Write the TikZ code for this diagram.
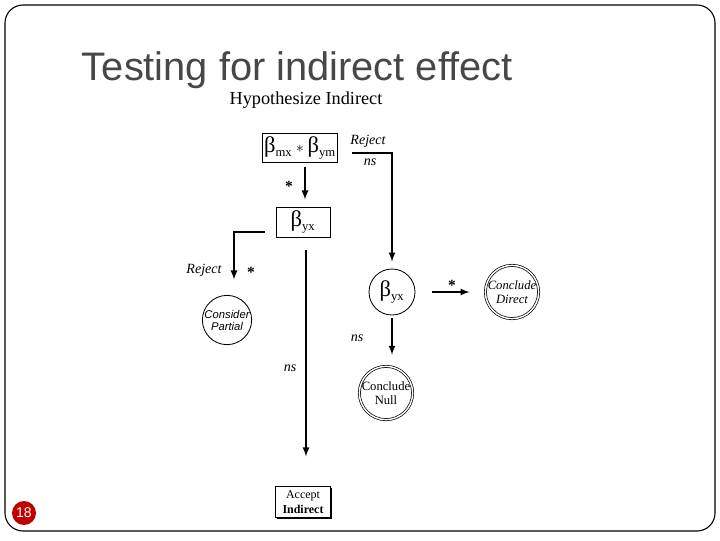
\documentclass[tikz,border=0pt]{standalone}
\usepackage{fontspec}
\setmainfont{Liberation Serif}
\newfontfamily\slidefont{Liberation Sans}
\usetikzlibrary{positioning,shadows}

\tikzset{
  testbox/.style={draw, line width=0.7pt, inner sep=1pt},
  testcirc/.style={draw, circle, line width=0.6pt, inner sep=0pt},
  endcirc/.style={draw, circle, double, double distance=1pt, line width=0.5pt, inner sep=0pt},
  arr/.style={line width=1.2pt, -latex},
  lab/.style={font=\fontsize{10}{10}\selectfont\itshape},
  sig/.style={font=\fontsize{11}{11}\selectfont\bfseries},
}

\begin{document}
\begin{tikzpicture}[x=0.025cm, y=-0.025cm]
\useasboundingbox (0,0) rectangle (720,540);
 \draw[line width=0.8pt, rounded corners=0.45cm] (5,5) rectangle (715,531);
 \node[anchor=base west, black!72, font=\slidefont\fontsize{28.3}{30}\selectfont] (title) at (77,80) {Testing for indirect effect};
 \node[font=\fontsize{13}{15}\selectfont] (hyp) at (306,100) {Hypothesize Indirect};

 %boxes
 \node[testbox, minimum width=1.76cm, minimum height=0.73cm] (prod) at (300,148)
   {\fontsize{16}{16}\selectfont β\textsubscript{\fontsize{9}{9}\selectfont mx}\,{\fontsize{11}{11}\selectfont$\ast$}\,β\textsubscript{\fontsize{9}{9}\selectfont ym}};
 \node[testbox, minimum width=1.35cm, minimum height=0.75cm] (byx) at (303,222)
   {\fontsize{16}{16}\selectfont β\textsubscript{\fontsize{9}{9}\selectfont yx}};
 \node[testbox, minimum width=1.38cm, minimum height=0.78cm, align=center,
   drop shadow={shadow xshift=0.8pt, shadow yshift=-1pt, fill=black, opacity=1}, fill=white] (accept) at (303,502)
   {\fontsize{8.5}{9}\selectfont Accept\\[-1pt]\fontsize{8.5}{9}\selectfont\bfseries Indirect};

 %circles
 \node[testcirc, minimum size=1.15cm] (cyx) at (392,292)
   {\fontsize{16}{16}\selectfont β\textsubscript{\fontsize{9}{9}\selectfont yx}};
 \node[testcirc, minimum size=1.1cm, align=center, font=\slidefont\itshape\fontsize{8}{8.5}\selectfont] (partial) at (227,320) {Consider\\Partial};
 \node[endcirc, minimum size=1.3cm, align=center, font=\itshape\fontsize{9}{9.5}\selectfont] (direct) at (512,292) {Conclude\\Direct};
 \node[endcirc, minimum size=1.3cm, align=center, font=\fontsize{9}{9.5}\selectfont] (null) at (386,393) {Conclude\\Null};

 %arrows
 \draw[arr, shorten <=3pt, shorten >=5pt] (prod.south -| 305,0) -- (byx.north -| 305,0);
 \node[sig] (s1) at (289,186) {*};
 \coordinate (rj) at (352,153);
 \draw[arr, shorten >=5pt] (rj) -- (rj -| cyx) -- (cyx.north);
 \node[lab] (rj1) at (368,141) {Reject};
 \node[lab] (ns1) at (370,162) {ns};
 \coordinate (lp) at (265,232);
 \draw[arr, shorten >=11pt] (lp) -- (lp -| 234,0) -- (partial.north -| 234,0);
 \node[lab] (rj2) at (204,270) {Reject};
 \node[sig] (s2) at (251,272) {*};
 \draw[arr, shorten <=9pt, shorten >=21pt] (byx.south -| 306,0) -- (accept.north -| 306,0);
 \node[lab] (ns2) at (290,368) {ns};
 \draw[arr, shorten <=12pt, shorten >=11pt] (cyx) -- (direct);
 \node[sig] (s3) at (452,285) {*};
 \draw[arr, shorten <=2pt, shorten >=8pt] (cyx.south) -- (cyx.south |- null.north);
 \node[lab] (ns3) at (357,338) {ns};

 %page number
 \node[circle, fill=red!75!black, text=white, minimum size=0.6cm, inner sep=0pt, font=\slidefont\fontsize{10}{10}\selectfont] (pg) at (24,513) {18};
\end{tikzpicture}
\end{document}
